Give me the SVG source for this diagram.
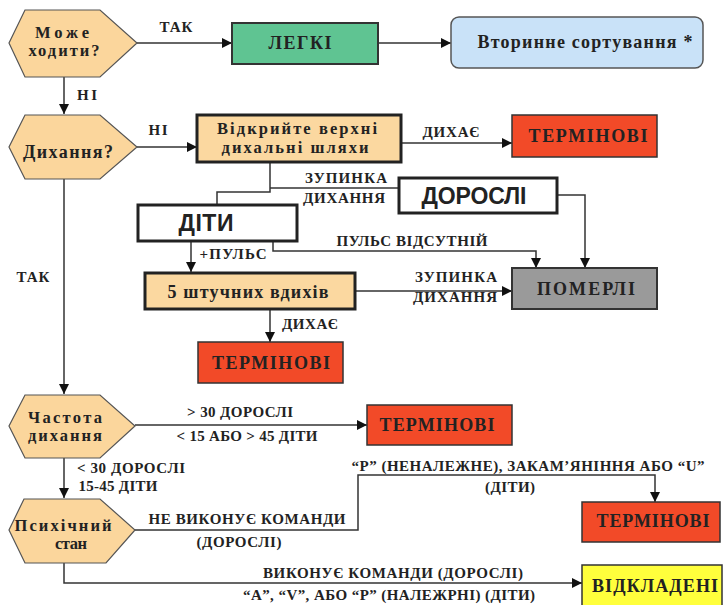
<svg xmlns="http://www.w3.org/2000/svg" width="725" height="605" viewBox="0 0 725 605">
<defs>
<marker id="arr" markerUnits="userSpaceOnUse" markerWidth="10" markerHeight="10" viewBox="0 0 10 10" refX="10" refY="5" orient="auto">
<path d="M0,0 L10,5 L0,10 z" fill="#111"/>
</marker>
</defs>
<style>
.hex{fill:#fbd69c;stroke:#555;stroke-width:1.2}
.t{font-family:"Liberation Serif","Times New Roman",serif;font-weight:bold;fill:#222;text-anchor:middle}
.n{font-size:18px}
.h{font-size:16.5px}
.l{font-size:15px}
.s{font-family:"Liberation Sans",Arial,sans-serif;font-weight:bold;fill:#222;text-anchor:middle;font-size:23px}
.c{fill:none;stroke:#333;stroke-width:1.5}
.red{fill:#f24a28;stroke:#333;stroke-width:1.5}
</style>
<rect width="725" height="605" fill="#ffffff"/>

<g id="connectors">
<path class="c" d="M137,43 H232" marker-end="url(#arr)"/>
<path class="c" d="M378,43 H451" marker-end="url(#arr)"/>
<path class="c" d="M64,77 V114" marker-end="url(#arr)"/>
<path class="c" d="M137,147 H197" marker-end="url(#arr)"/>
<path class="c" d="M401,143 H512" marker-end="url(#arr)"/>
<path class="c" d="M270,162 V192 H217 V205"/>
<path class="c" d="M270,188 H399"/>
<path class="c" d="M557,195 H585 V268" marker-end="url(#arr)"/>
<path class="c" d="M273,241 V251 H536 V268" marker-end="url(#arr)"/>
<path class="c" d="M191,241 V272" marker-end="url(#arr)"/>
<path class="c" d="M355,291 H512" marker-end="url(#arr)"/>
<path class="c" d="M270,309 V342" marker-end="url(#arr)"/>
<path class="c" d="M64,178 V394" marker-end="url(#arr)"/>
<path class="c" d="M135,425 H367" marker-end="url(#arr)"/>
<path class="c" d="M64,458 V498" marker-end="url(#arr)"/>
<path class="c" d="M135,530 H358 V475 H655 V502" marker-end="url(#arr)"/>
<path class="c" d="M64,563 V583 H582" marker-end="url(#arr)"/>
</g>

<g id="labels">
<text class="t l" x="176" y="32" textLength="33">ТАК</text>
<text class="t l" x="87" y="100" textLength="20">НІ</text>
<text class="t l" x="158" y="135" textLength="19">НІ</text>
<text class="t l" x="451" y="137" textLength="57">ДИХАЄ</text>
<text class="t l" x="346" y="183" textLength="82">ЗУПИНКА</text>
<text class="t l" x="344" y="203" textLength="82">ДИХАННЯ</text>
<text class="t l" x="233" y="259" textLength="67">+ПУЛЬС</text>
<text class="t l" x="412" y="246" textLength="151">ПУЛЬС ВІДСУТНІЙ</text>
<text class="t l" x="456" y="282" textLength="82">ЗУПИНКА</text>
<text class="t l" x="455" y="302" textLength="84">ДИХАННЯ</text>
<text class="t l" x="310" y="329" textLength="56">ДИХАЄ</text>
<text class="t l" x="33" y="282" textLength="33">ТАК</text>
<text class="t l" x="240" y="417" textLength="106">&gt; 30 ДОРОСЛІ</text>
<text class="t l" x="247" y="441" textLength="141">&lt; 15 АБО &gt; 45 ДІТИ</text>
<text class="t l" x="131" y="473" textLength="108">&lt; 30 ДОРОСЛІ</text>
<text class="t l" x="118" y="491" textLength="79">15-45 ДІТИ</text>
<text class="t l" x="247" y="524" textLength="197">НЕ ВИКОНУЄ КОМАНДИ</text>
<text class="t l" x="239" y="547" textLength="85">(ДОРОСЛІ)</text>
<text class="t l" x="528" y="471" textLength="353">“Р” (НЕНАЛЕЖНЕ), ЗАКАМ’ЯНІННЯ АБО “U”</text>
<text class="t l" x="510" y="492" textLength="50">(ДІТИ)</text>
<text class="t l" x="393" y="578" textLength="260">ВИКОНУЄ КОМАНДИ (ДОРОСЛІ)</text>
<text class="t l" x="389" y="600" textLength="292">“A”, “V”, АБО “P” (НАЛЕЖРНІ) (ДІТИ)</text>
</g>

<g id="n-walk">
<polygon class="hex" points="25,10 100,10 137,43 100,77 25,77 9,43"/>
<text class="t h" x="62" y="38" textLength="54">Може</text>
<text class="t h" x="64" y="56" textLength="71">ходити?</text>
</g>
<g id="n-minor">
<rect x="232" y="23" width="146" height="41" fill="#5fc492" stroke="#333" stroke-width="2"/>
<text class="t n" x="300" y="49" textLength="63">ЛЕГКІ</text>
</g>
<g id="n-secondary">
<rect x="451" y="17" width="252" height="51" rx="8" fill="#c9e2f8" stroke="#555" stroke-width="1.5"/>
<text class="t n" x="585" y="48" textLength="215">Вторинне сортування *</text>
</g>
<g id="n-breath">
<polygon class="hex" points="25,115 100,115 137,147 100,179 25,179 9,147"/>
<text class="t n" x="68" y="158" textLength="90">Дихання?</text>
</g>
<g id="n-airway">
<rect x="197" y="115" width="204" height="47" fill="#fbd8a0" stroke="#222" stroke-width="3"/>
<text class="t h" x="297" y="134" textLength="160">Відкрийте верхні</text>
<text class="t h" x="295" y="153" textLength="147">дихальні шляхи</text>
</g>
<g id="n-urgent1">
<rect class="red" x="512" y="115" width="145" height="42"/>
<text class="t n" x="588" y="142" textLength="119">ТЕРМІНОВІ</text>
</g>
<g id="n-adults">
<rect x="399" y="178" width="158" height="35" fill="#fff" stroke="#222" stroke-width="3"/>
<text class="s" x="474" y="204" textLength="105">ДОРОСЛІ</text>
</g>
<g id="n-children">
<rect x="138" y="205" width="159" height="36" fill="#fff" stroke="#222" stroke-width="3"/>
<text class="s" x="206" y="231" textLength="55">ДІТИ</text>
</g>
<g id="n-dead">
<rect x="512" y="268" width="145" height="41" fill="#9a9a9a" stroke="#333" stroke-width="2"/>
<text class="t n" x="586" y="295" textLength="98">ПОМЕРЛІ</text>
</g>
<g id="n-rescue">
<rect x="145" y="273" width="210" height="36" fill="#fbd8a0" stroke="#222" stroke-width="3"/>
<text class="t n" x="248" y="298" textLength="161">5 штучних вдихів</text>
</g>
<g id="n-urgent2">
<rect class="red" x="198" y="342" width="145" height="41"/>
<text class="t n" x="271" y="369" textLength="118">ТЕРМІНОВІ</text>
</g>
<g id="n-rate">
<polygon class="hex" points="25,395 100,395 135,426 100,458 25,458 9,426"/>
<text class="t h" x="65" y="423" textLength="74">Частота</text>
<text class="t h" x="65" y="441" textLength="74">дихання</text>
</g>
<g id="n-urgent3">
<rect class="red" x="367" y="405" width="145" height="40"/>
<text class="t n" x="437" y="431" textLength="115">ТЕРМІНОВІ</text>
</g>
<g id="n-mental">
<polygon class="hex" points="24,499 100,499 135,530 106,563 25,563 9,530"/>
<text class="t h" x="63" y="531" textLength="97">Психічний</text>
<text class="t h" x="71" y="549" textLength="32">стан</text>
</g>
<g id="n-urgent4">
<rect class="red" x="582" y="502" width="138" height="40"/>
<text class="t n" x="653" y="527" textLength="113">ТЕРМІНОВІ</text>
</g>
<g id="n-delayed">
<rect x="582" y="565" width="140" height="44" fill="#ffff3c" stroke="#333" stroke-width="1.5"/>
<text class="t n" x="655" y="592" textLength="126">ВІДКЛАДЕНІ</text>
</g>
</svg>
